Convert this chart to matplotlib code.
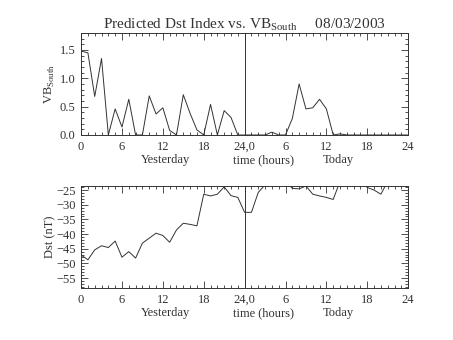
import matplotlib
matplotlib.use('Agg')
import matplotlib.pyplot as plt
from matplotlib.ticker import MultipleLocator

# hours since start of yesterday (0-48)
hours = list(range(49))

vb_south = [1.48, 1.45, 0.68, 1.35, 0.0, 0.46, 0.14, 0.63, 0.0, 0.0,
            0.69, 0.37, 0.48, 0.08, 0.0, 0.71, 0.38, 0.09, 0.0, 0.54,
            0.0, 0.43, 0.31, 0.0, 0.0, 0.0, 0.0, 0.0, 0.05, 0.0,
            0.0, 0.29, 0.90, 0.46, 0.48, 0.63, 0.46, 0.0, 0.02, 0.0,
            0.0, 0.0, 0.0, 0.0, 0.0, 0.0, 0.0, 0.0, 0.0]

dst = [-47.1, -48.8, -45.4, -44.0, -44.6, -42.4, -47.9, -46.0, -48.2, -43.1,
       -41.4, -39.7, -40.5, -42.8, -38.6, -36.3, -36.7, -37.2, -26.4, -27.0,
       -26.4, -23.9, -26.9, -27.5, -32.6, -32.6, -25.8, -23.2, -22.0, -22.0,
       -22.0, -24.4, -24.6, -23.6, -26.4, -27.0, -27.5, -28.2, -22.0, -22.0,
       -22.0, -22.0, -24.1, -25.0, -26.4, -22.0, -22.0, -22.0, -22.0]

xtick_pos = [0, 6, 12, 18, 24, 30, 36, 42, 48]
xtick_labels = ['0', '6', '12', '18', '24,0', '6', '12', '18', '24']

plt.rcParams['font.family'] = ['Liberation Serif', 'DejaVu Serif']
fg = '#333333'

fig = plt.figure(figsize=(4.53, 3.40), dpi=100)
ax1 = fig.add_axes([0.179, 0.603, 0.722, 0.300])
ax2 = fig.add_axes([0.179, 0.153, 0.722, 0.300])


def style(ax, ymaj, ymin):
    ax.set_xlim(0, 48)
    ax.set_xticks(xtick_pos)
    ax.set_xticklabels(xtick_labels)
    ax.xaxis.set_minor_locator(MultipleLocator(1))
    ax.yaxis.set_major_locator(MultipleLocator(ymaj))
    ax.yaxis.set_minor_locator(MultipleLocator(ymin))
    ax.tick_params(which='both', direction='in', top=True, right=True,
                   colors=fg, labelsize=9, width=0.6)
    ax.tick_params(which='major', length=5, pad=4)
    ax.tick_params(which='minor', length=2.5)
    for s in ax.spines.values():
        s.set_color(fg)
        s.set_linewidth(0.7)
    ax.axvline(24, color=fg, lw=0.7)
    ax.text(0.257, -0.19, 'Yesterday', transform=ax.transAxes, ha='center',
            va='top', fontsize=9, color=fg)
    ax.text(0.557, -0.19, 'time (hours)', transform=ax.transAxes, ha='center',
            va='top', fontsize=9, color=fg)
    ax.text(0.786, -0.19, 'Today', transform=ax.transAxes, ha='center',
            va='top', fontsize=9, color=fg)


ax1.plot(hours, vb_south, color=fg, lw=0.7)
style(ax1, 0.5, 0.1)
ax1.set_ylim(0, 1.8)
ax1.yaxis.set_major_formatter(lambda v, p: f'{v:.1f}')
ax1.set_ylabel(r'VB$_{\mathregular{South}}$', fontsize=9, color=fg, labelpad=2)
ax1.set_title(r'Predicted Dst Index vs. VB$_{\mathregular{South}}$     08/03/2003',
              fontsize=11, color=fg, pad=3)

ax2.plot(hours, dst, color=fg, lw=0.7)
style(ax2, 5, 1)
ax2.set_ylim(-58.4, -23.6)
ax2.set_ylabel('Dst (nT)', fontsize=9, color=fg, labelpad=0)

fig.savefig('out.png', dpi=100)
